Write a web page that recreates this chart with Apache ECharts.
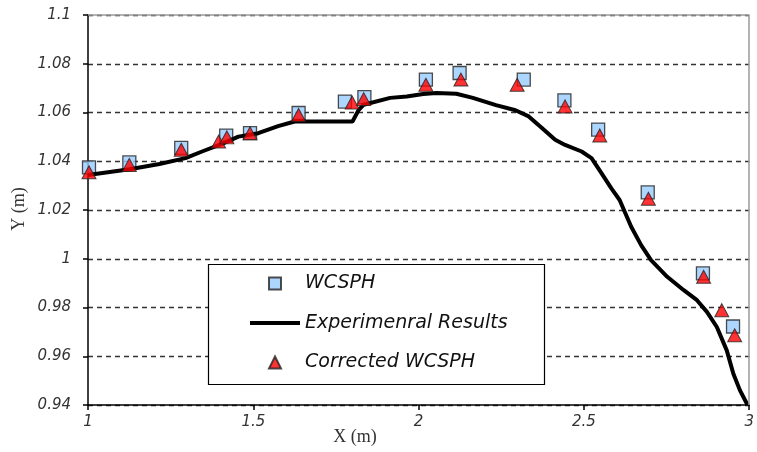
<!DOCTYPE html>
<html>
<head>
<meta charset="utf-8">
<script src="https://cdn.jsdelivr.net/npm/echarts@6/dist/echarts.min.js"></script>
<style>
  html, body { margin: 0; padding: 0; background: #ffffff; }
  #chart { width: 757px; height: 452px; }
</style>
</head>
<body>
<div id="chart"></div>
<script>
// Free-surface profile: WCSPH vs. corrected WCSPH vs. experiment
const xTicks = [1, 1.5, 2, 2.5, 3];
const yTicks = [0.94, 0.96, 0.98, 1, 1.02, 1.04, 1.06, 1.08, 1.1];

const wcsphX = [1.003, 1.125, 1.282, 1.418, 1.490, 1.637, 1.777, 1.836, 2.022, 2.124, 2.318, 2.441, 2.543, 2.693, 2.860, 2.951];
const wcsphY = [1.0375, 1.0395, 1.0455, 1.0505, 1.0515, 1.0598, 1.0645, 1.0663, 1.0735, 1.0762, 1.0735, 1.0650, 1.0530, 1.0272, 0.9940, 0.9722];

const correctedX = [1.003, 1.125, 1.282, 1.395, 1.420, 1.490, 1.637, 1.799, 1.834, 2.022, 2.128, 2.298, 2.443, 2.548, 2.695, 2.862, 2.917, 2.956];
const correctedY = [1.0355, 1.0385, 1.0447, 1.0481, 1.0498, 1.0515, 1.0590, 1.0641, 1.0655, 1.0714, 1.0735, 1.0714, 1.0625, 1.0506, 1.0246, 0.9926, 0.9789, 0.9686];

const expX = [1.000, 1.126, 1.216, 1.295, 1.345, 1.405, 1.455, 1.515, 1.575, 1.625, 1.800, 1.819, 1.834, 1.914, 1.964, 2.014, 2.054, 2.114, 2.164, 2.234, 2.293, 2.333, 2.373, 2.413, 2.443, 2.493, 2.523, 2.553, 2.583, 2.608, 2.643, 2.673, 2.703, 2.752, 2.802, 2.842, 2.872, 2.902, 2.932, 2.952, 2.972, 2.995];
const expY = [1.0344, 1.0367, 1.0389, 1.0413, 1.0440, 1.0471, 1.0501, 1.0515, 1.0544, 1.0563, 1.0563, 1.0611, 1.0632, 1.0660, 1.0666, 1.0676, 1.0680, 1.0677, 1.0660, 1.0630, 1.0609, 1.0584, 1.0536, 1.0488, 1.0467, 1.0440, 1.0413, 1.0351, 1.0289, 1.0241, 1.0131, 1.0056, 0.9994, 0.9926, 0.9871, 0.9830, 0.9782, 0.9720, 0.9624, 0.9528, 0.9460, 0.9400];

const zip = (xs, ys) => xs.map((x, i) => [x, ys[i]]);

const tickFont = {
  fontFamily: 'DejaVu Sans',
  fontStyle: 'italic',
  fontSize: 15,
  color: '#333333'
};

// legend icons kept at their own aspect inside the 50-px-wide icon slot
const squareIcon = 'path://M0,0L10,0L10,10L0,10Z';
const triangleIcon = 'path://M5,0L10,10L0,10Z';
const barIcon = 'path://M0,0L50,0L50,4L0,4Z';

const chart = echarts.init(document.getElementById('chart'), null, { renderer: 'canvas' });

chart.setOption({
  animation: false,
  backgroundColor: '#ffffff',
  grid: { left: 88, right: 2, top: 15, bottom: 47, containLabel: false },
  xAxis: {
    type: 'value',
    min: xTicks[0],
    max: xTicks[xTicks.length - 1],
    interval: 0.5,
    axisLine: { show: true, onZero: false, lineStyle: { color: '#000000', width: 1.5 } },
    axisTick: { show: true, inside: false, length: 5, lineStyle: { color: '#000000', width: 1.5 } },
    axisLabel: Object.assign({ margin: 10, showMinLabel: true, showMaxLabel: true, hideOverlap: false,
      formatter: v => String(+v.toFixed(2)) }, tickFont),
    splitLine: { show: false }
  },
  yAxis: {
    type: 'value',
    min: yTicks[0],
    max: yTicks[yTicks.length - 1],
    interval: 0.02,
    axisLine: { show: true, onZero: false, lineStyle: { color: '#000000', width: 1.5 } },
    axisTick: { show: true, inside: false, length: 5, lineStyle: { color: '#000000', width: 1.5 } },
    axisLabel: Object.assign({ margin: 17, showMinLabel: true, showMaxLabel: true, hideOverlap: false,
      formatter: v => String(+v.toFixed(2)) }, tickFont),
    splitLine: { show: true, lineStyle: { color: '#333333', width: 1.3, type: [5, 4] } }
  },
  legend: {
    orient: 'vertical',
    z: 20,
    left: 250,
    top: 274,
    padding: 0,
    itemWidth: 50,
    itemHeight: 12,
    itemGap: 20.5,
    symbolKeepAspect: true,
    textStyle: { fontFamily: 'DejaVu Sans', fontStyle: 'italic', fontSize: 19, color: '#111111' },
    data: [
      { name: 'WCSPH', icon: squareIcon },
      { name: 'Experimenral Results', icon: barIcon, itemStyle: { color: '#000000', borderWidth: 0 },
        lineStyle: { width: 4, color: '#000000' } },
      { name: 'Corrected WCSPH', icon: triangleIcon }
    ]
  },
  graphic: [
    {
      type: 'rect',
      z: 8,
      shape: { x: 208.5, y: 264.5, width: 336, height: 120 },
      style: { fill: '#ffffff', stroke: '#000000', lineWidth: 1.2 }
    },
    {
      type: 'text',
      x: 19, y: 209,
      rotation: Math.PI / 2,
      style: { text: 'Y (m)', font: '18px "Liberation Serif"', fill: '#333333', align: 'center', verticalAlign: 'middle' }
    },
    {
      type: 'text',
      x: 355, y: 437,
      style: { text: 'X (m)', font: '18px "Liberation Serif"', fill: '#333333', align: 'center', verticalAlign: 'middle' }
    }
  ],
  series: [
    {
      name: 'WCSPH',
      type: 'scatter',
      z: 3,
      symbol: 'rect',
      symbolSize: 13,
      itemStyle: { color: '#99ccff', borderColor: '#222222', borderWidth: 1.3 },
      data: zip(wcsphX, wcsphY),
      markLine: {
        silent: true,
        symbol: 'none',
        label: { show: false },
        lineStyle: { color: '#9a9a9a', width: 1.5, type: 'solid' },
        data: [{ yAxis: yTicks[yTicks.length - 1] }, { xAxis: xTicks[xTicks.length - 1] }]
      }
    },
    {
      name: 'Experimenral Results',
      type: 'line',
      z: 4,
      symbol: 'none',
      smooth: false,
      lineStyle: { color: '#000000', width: 4 },
      itemStyle: { color: '#000000' },
      data: zip(expX, expY)
    },
    {
      name: 'Corrected WCSPH',
      type: 'scatter',
      z: 5,
      symbol: 'triangle',
      symbolSize: [14, 13],
      itemStyle: { color: '#ff0000', borderColor: '#222222', borderWidth: 1 },
      data: zip(correctedX, correctedY)
    }
  ]
});
</script>
</body>
</html>
